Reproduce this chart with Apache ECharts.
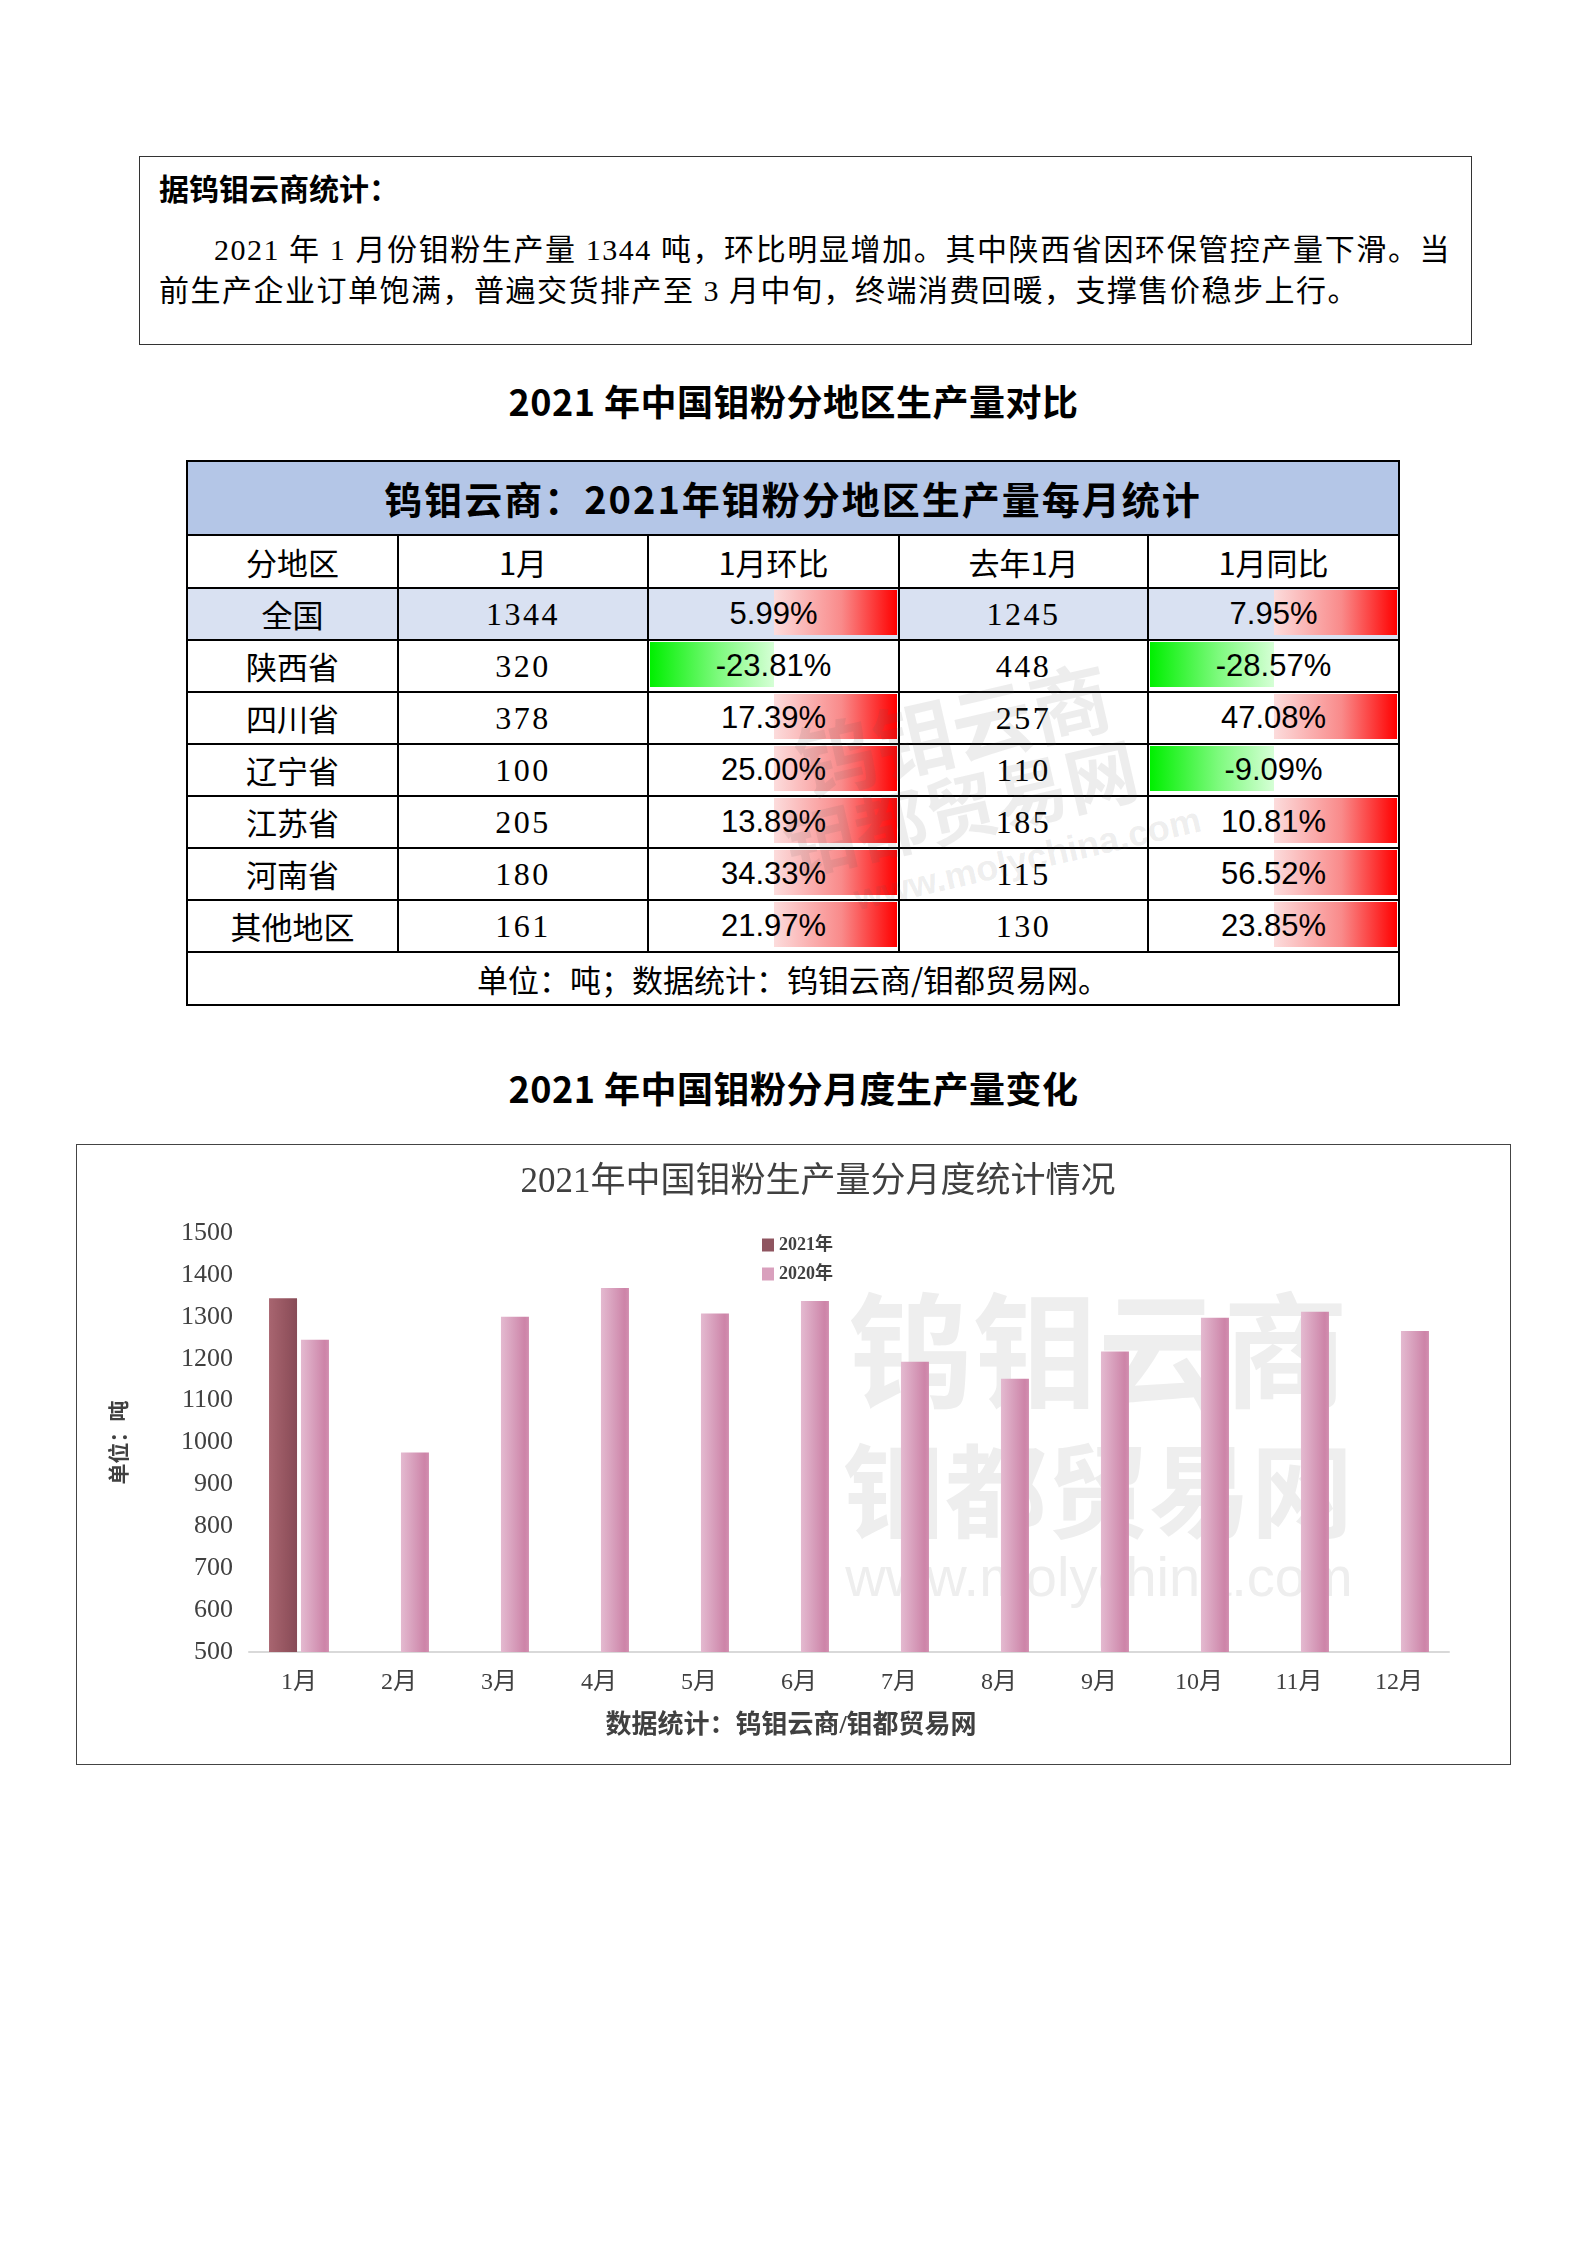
<!DOCTYPE html>
<html lang="zh-CN">
<head>
<meta charset="utf-8">
<title>2021年中国钼粉生产量</title>
<script src="https://cdn.jsdelivr.net/npm/echarts/dist/echarts.min.js"></script>
<style>
html,body{margin:0;padding:0;background:#fff}
body{position:relative;width:1587px;height:2245px;overflow:hidden;font-family:"Noto Sans CJK SC","Noto Sans",sans-serif;color:#000}
#intro{position:absolute;left:139px;top:156px;width:1333px;height:189px;box-sizing:border-box;border:1.5px solid #333}
#intro .t{position:absolute;left:19px;top:10px;font-size:30px;line-height:40px;font-weight:bold}
#intro .l{position:absolute;left:19px;right:20px;font-family:"Liberation Serif","Noto Sans CJK SC",serif;font-size:30px;line-height:40px;letter-spacing:1.5px;white-space:nowrap}
#l1{top:73px;padding-left:55px;text-align:justify;text-align-last:justify}
#l2{top:114px}
.h{position:absolute;left:0;width:1587px;text-align:center;font-size:36px;line-height:44px;font-weight:bold;letter-spacing:0.5px}
#tbl{position:absolute;left:186px;top:460px;width:1212px;border-collapse:collapse;table-layout:fixed}
#tbl td{border:2px solid #000;padding:0;text-align:center;position:relative;font-size:31px;line-height:40px;white-space:nowrap}
#tbl td.cap{background:#b4c6e7;font-size:38px;font-weight:bold;letter-spacing:2px}
#tbl tr.nat td{background:#d9e1f2}
#tbl td.num{font-family:"Liberation Serif",serif;font-size:32px;letter-spacing:2.5px}
#tbl td.pct{font-family:"Liberation Sans",Arial,sans-serif;font-size:31px}
#tbl td span{position:relative;z-index:2}
.bar{position:absolute;top:1px;bottom:4px;z-index:1}
.bar.pos{left:50%;right:1px;background:linear-gradient(to right,#fcdcdc 0%,#f98a8a 55%,#ff0000 100%)}
.bar.neg{left:1px;right:50%;background:linear-gradient(to right,#00f000 0%,#7dfa7d 55%,#d6ffd6 100%)}
#wm{position:absolute;left:0;top:0;width:1587px;height:1100px;pointer-events:none;z-index:5}
#wm div{position:absolute;color:rgba(90,90,90,0.11);font-weight:bold;transform-origin:center;white-space:nowrap}
#chartBox{position:absolute;left:76px;top:1144px;width:1435px;height:621px;box-sizing:border-box;border:1px solid #444}
#chart{position:absolute;left:0;top:0;width:1433px;height:619px}
</style>
</head>
<body>
<div id="intro">
  <div class="t">据钨钼云商统计：</div>
  <div class="l" id="l1">2021 年 1 月份钼粉生产量 1344 吨，环比明显增加。其中陕西省因环保管控产量下滑。当</div>
  <div class="l" id="l2">前生产企业订单饱满，普遍交货排产至 3 月中旬，终端消费回暖，支撑售价稳步上行。</div>
</div>
<div class="h" style="top:378px">2021 年中国钼粉分地区生产量对比</div>
<table id="tbl"><colgroup><col style="width:211px"><col style="width:250px"><col style="width:251px"><col style="width:249px"><col style="width:251px"></colgroup><tbody id="tb"></tbody></table>
<div id="wm">
  <div style="left:792px;top:668px;font-size:80px;transform:rotate(-13deg)">钨钼云商</div>
  <div style="left:780px;top:752px;font-size:72px;transform:rotate(-13deg)">钼都贸易网</div>
  <div style="left:850px;top:838px;font-size:36px;font-family:'Liberation Sans',sans-serif;transform:rotate(-13deg)">www.molychina.com</div>
</div>
<div class="h" style="top:1065px">2021 年中国钼粉分月度生产量变化</div>
<div id="chartBox"><div id="chart"></div></div>
<script>
// ---- table data ----
const tableTitle = '钨钼云商：2021年钼粉分地区生产量每月统计';
const tableHeaders = ['分地区', '1月', '1月环比', '去年1月', '1月同比'];
const regions = ['全国', '陕西省', '四川省', '辽宁省', '江苏省', '河南省', '其他地区'];
const jan2021 = [1344, 320, 378, 100, 205, 180, 161];
const momPct = [5.99, -23.81, 17.39, 25.00, 13.89, 34.33, 21.97];
const jan2020 = [1245, 448, 257, 110, 185, 115, 130];
const yoyPct = [7.95, -28.57, 47.08, -9.09, 10.81, 56.52, 23.85];
const tableNote = '单位：吨；数据统计：钨钼云商/钼都贸易网。';

// ---- chart data ----
const chartTitle = '2021年中国钼粉生产量分月度统计情况';
const months = ['1月', '2月', '3月', '4月', '5月', '6月', '7月', '8月', '9月', '10月', '11月', '12月'];
const seriesNames = ['2021年', '2020年'];
const prod2021 = [1344, null, null, null, null, null, null, null, null, null, null, null];
const prod2020 = [1245, 976, 1300, 1369, 1308, 1338, 1193, 1152, 1217, 1298, 1312, 1266];
const yMin = 500, yMax = 1500, yStep = 100;
const yAxisName = '单位：吨';
const sourceText = '数据统计：钨钼云商/钼都贸易网';

// build table
(function () {
  const tb = document.getElementById('tb');
  let html = '<tr style="height:74px"><td class="cap" colspan="5">' + tableTitle + '</td></tr>';
  html += '<tr style="height:53px">' + tableHeaders.map(h => '<td>' + h + '</td>').join('') + '</tr>';
  const pctCell = v => '<td class="pct"><div class="bar ' + (v < 0 ? 'neg' : 'pos') + '"></div><span>' + v.toFixed(2) + '%</span></td>';
  regions.forEach((r, i) => {
    html += '<tr style="height:52px"' + (i === 0 ? ' class="nat"' : '') + '>' +
      '<td>' + r + '</td>' +
      '<td class="num">' + jan2021[i] + '</td>' +
      pctCell(momPct[i]) +
      '<td class="num">' + jan2020[i] + '</td>' +
      pctCell(yoyPct[i]) + '</tr>';
  });
  html += '<tr style="height:53px"><td colspan="5">' + tableNote + '</td></tr>';
  tb.innerHTML = html;
})();

// chart
const serif = "'Liberation Serif','Noto Sans CJK SC',serif";
const chart = echarts.init(document.getElementById('chart'), null, { renderer: 'canvas' });
const grad = (stops) => new echarts.graphic.LinearGradient(0, 0, 1, 0, stops.map((c) => ({ offset: c[0], color: c[1] })));
chart.setOption({
  animation: false,
  backgroundColor: '#fff',
  textStyle: { fontFamily: serif },
  legend: {
    orient: 'vertical', left: 680, top: 86,
    itemWidth: 12, itemHeight: 13, itemGap: 11, icon: 'rect',
    textStyle: { fontSize: 18, color: '#404040', fontWeight: 'bold', fontFamily: serif },
    data: [
      { name: seriesNames[0], itemStyle: { color: '#8f5560' } },
      { name: seriesNames[1], itemStyle: { color: '#d9a0bd' } }
    ]
  },
  grid: { left: 172, right: 61, top: 88, bottom: 112 },
  xAxis: {
    type: 'category', data: months,
    axisLine: { lineStyle: { color: '#d9d9d9', width: 2 } },
    axisTick: { show: false },
    axisLabel: { fontSize: 24, color: '#404040', margin: 19, fontFamily: serif }
  },
  yAxis: {
    type: 'value', min: yMin, max: yMax, interval: yStep,
    axisLine: { show: false }, axisTick: { show: false }, splitLine: { show: false },
    axisLabel: { fontSize: 26, color: '#404040', margin: 16, fontFamily: serif, formatter: (v) => String(v) },
    name: yAxisName, nameLocation: 'middle', nameGap: 118,
    nameTextStyle: { fontSize: 21, fontWeight: 'bold', color: '#404040', fontFamily: serif }
  },
  series: [
    {
      name: seriesNames[0], type: 'bar', data: prod2021, barWidth: 28, barGap: '14%',
      itemStyle: { color: grad([[0, '#a86570'], [0.6, '#955560'], [1, '#874b57']]) }
    },
    {
      name: seriesNames[1], type: 'bar', data: prod2020, barWidth: 28,
      itemStyle: { color: grad([[0, '#e4bad0'], [0.5, '#d69bb9'], [0.85, '#cd84a8'], [1, '#d28fb0']]) }
    }
  ],
  graphic: [
    { type: 'text', x: 741, y: 38, z: 5, style: { text: chartTitle, fontSize: 35, fill: '#404040', textAlign: 'center', textVerticalAlign: 'middle', fontFamily: serif } },
    { type: 'text', x: 714, y: 581, z: 5, style: { text: sourceText, fontSize: 26, fontWeight: 'bold', fill: '#404040', textAlign: 'center', textVerticalAlign: 'middle', fontFamily: serif } },
    { type: 'text', x: 1021, y: 205, z: -1, silent: true, style: { text: '钨钼云商', fontSize: 125, fontWeight: 'bold', fill: '#eeeeee', textAlign: 'center', textVerticalAlign: 'middle', fontFamily: "'Noto Sans CJK SC',sans-serif" } },
    { type: 'text', x: 1021, y: 346, z: -1, silent: true, style: { text: '钼都贸易网', fontSize: 102, fontWeight: 'bold', fill: '#eeeeee', textAlign: 'center', textVerticalAlign: 'middle', fontFamily: "'Noto Sans CJK SC',sans-serif" } },
    { type: 'text', x: 1022, y: 436, z: -1, silent: true, style: { text: 'www.molychina.com', fontSize: 56, fill: '#eeeeee', textAlign: 'center', textVerticalAlign: 'middle', fontFamily: "'Liberation Sans',sans-serif" } }
  ]
});
</script>
</body>
</html>
